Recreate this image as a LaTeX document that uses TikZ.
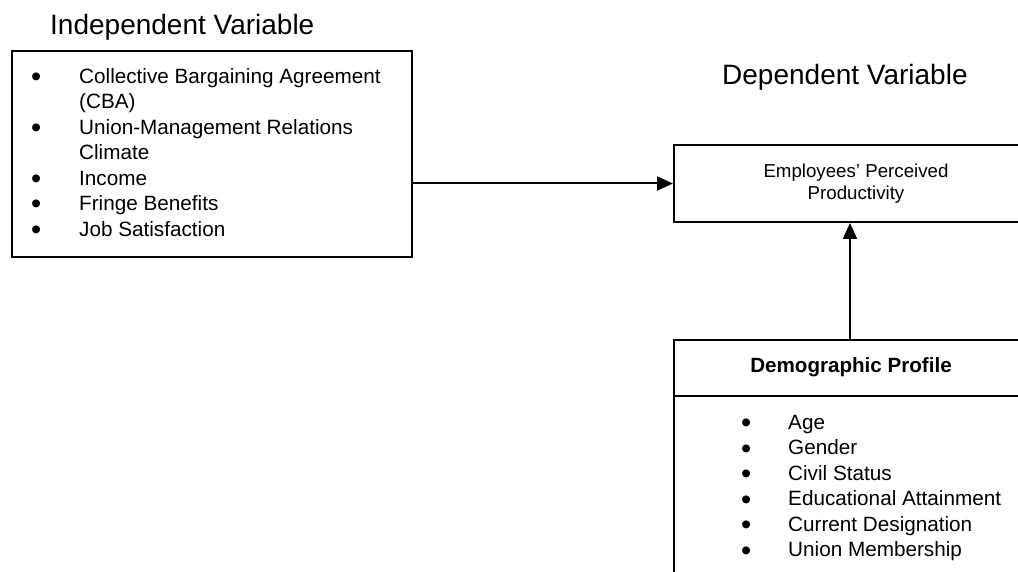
\documentclass[tikz,border=0pt]{standalone}
\usepackage{fontspec}
\setmainfont{Liberation Sans}
\usetikzlibrary{arrows.meta}
\newcommand\mybul{\raisebox{-3.3pt}{\scalebox{1.4}{•}}}
\begin{document}
\begin{tikzpicture}[x=1pt,y=-1pt,
  box/.style={draw,line width=2pt,inner sep=0pt,anchor=north west},
  arr/.style={line width=2pt,-{Triangle[length=16pt,width=14pt]}},
  title/.style={font=\fontsize{28}{34}\selectfont,anchor=base west,inner sep=0pt},
  lst/.style={font=\fontsize{20.7}{25.5}\selectfont,anchor=north west,inner sep=0pt,align=left}]
\useasboundingbox (0,0) rectangle (1018,572);
\clip (0,0) rectangle (1018,572);
\node[title] (t1) at (50,34.3) {Independent Variable};
\node[title] (t2) at (722,85) {Dependent Variable};
\node[box,minimum width=400pt,minimum height=206pt] (indep) at (11,50) {};
\node[lst] (l1) at (31,65.15) {\begin{tabular}{@{}p{48pt}@{}l@{}}
\mybul & Collective Bargaining Agreement\\
  & (CBA)\\
\mybul & Union-Management Relations\\
  & Climate\\
\mybul & Income\\
\mybul & Fringe Benefits\\
\mybul & Job Satisfaction
\end{tabular}};
\node[box,minimum width=366pt,minimum height=77pt] (dep) at (673,144) {};
\node[font=\fontsize{18.7}{22}\selectfont,align=center,inner sep=0pt] (dtext) at (856,184) {Employees’ Perceived\\Productivity};
\node[box,minimum width=366pt,minimum height=300pt] (demo) at (673,339) {};
\draw[line width=2pt] ([yshift=-57pt]demo.north west) -- ([yshift=-57pt]demo.north east);
\node[font=\fontsize{20.6}{25}\selectfont\bfseries,anchor=base,inner sep=0pt] (dhead) at (851,372) {Demographic Profile};
\node[lst] (l2) at (741,411.15) {\begin{tabular}{@{}p{47pt}@{}l@{}}
\mybul & Age\\
\mybul & Gender\\
\mybul & Civil Status\\
\mybul & Educational Attainment\\
\mybul & Current Designation\\
\mybul & Union Membership
\end{tabular}};
\draw[arr] (indep.east |- dep.west) -- (dep.west);
\draw[arr] ([xshift=-7pt]demo.north) -- ([xshift=-7pt]dep.south);
\end{tikzpicture}
\end{document}
